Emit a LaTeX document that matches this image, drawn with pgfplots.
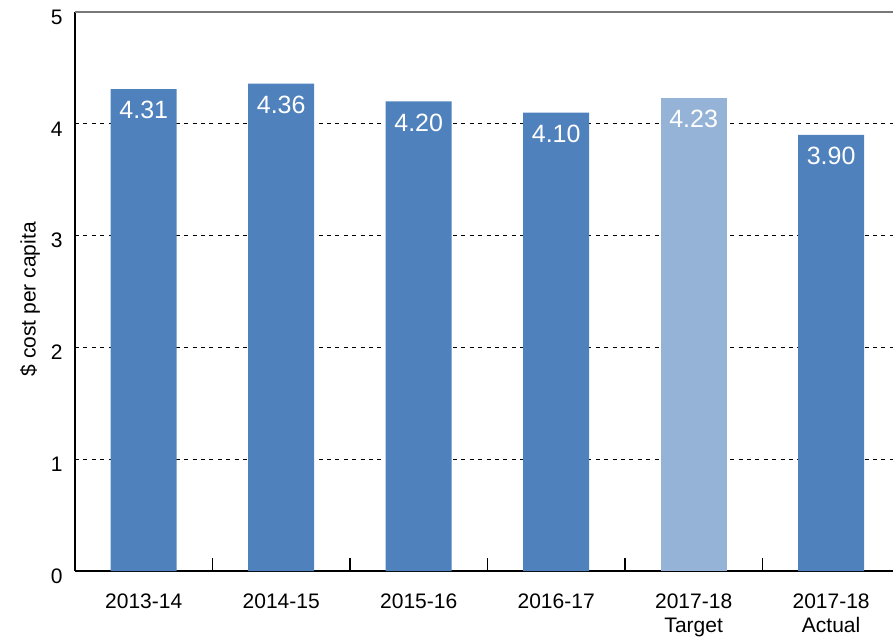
\documentclass[border=0pt]{standalone}
\usepackage{fontspec}
\setmainfont{Liberation Sans}
\usepackage{pgfplots}
\pgfplotsset{compat=1.18}
\definecolor{barblue}{RGB}{79,129,189}
\definecolor{barlight}{RGB}{149,179,215}
\definecolor{topgray}{RGB}{120,120,120}
\begin{document}
\begin{tikzpicture}
\begin{axis}[
  name=ax,
  scale only axis,
  width=409pt, height=279.5pt,
  xmin=-0.5, xmax=5.45,
  ymin=0, ymax=5,
  ybar, bar width=33pt, bar shift=0pt,
  axis x line=bottom, axis y line=left,
  axis line style={-, black, line width=0.7pt},
  xtick={0,1,2,3,4,5},
  xticklabels={2013-14,2014-15,2015-16,2016-17,{2017-18\\Target},{2017-18\\Actual}},
  x tick style={draw=none},
  xticklabel style={align=center, font=\fontsize{10.5}{12.2}\selectfont, yshift=-5.5pt},
  extra x ticks={0.5,1.5,2.5,3.5,4.5},
  extra x tick labels={},
  extra x tick style={grid=none, major tick length=6.5pt, tick align=inside, x tick style={draw=black, line width=0.6pt}},
  ytick={0,1,2,3,4,5},
  y tick style={draw=none},
  yticklabel style={font=\fontsize{10.5}{12.6}\selectfont, xshift=-0.5pt, yshift=-2.5pt},
  ymajorgrids,
  major grid style={black, line width=0.45pt, dash pattern=on 2pt off 2.2pt},
  ylabel={\$ cost per capita},
  ylabel style={at={(axis description cs:-0.055,0.486)}, anchor=center, font=\fontsize{10.5}{12.6}\selectfont},
  /pgf/number format/assume math mode=true,
  nodes near coords,
  nodes near coords style={anchor=north, text=white, font=\fontsize{12.5}{14}\selectfont, yshift=-2.6pt,
    /pgf/number format/.cd, fixed, fixed zerofill, precision=2},
  clip=false,
]
\addplot[fill=barblue, draw=none] coordinates {(0,4.31) (1,4.36) (2,4.20) (3,4.10) (5,3.90)};
\addplot[fill=barlight, draw=none] coordinates {(4,4.23)};
\draw[topgray, line width=0.8pt] (rel axis cs:0,1) -- (rel axis cs:1,1);
\end{axis}
\pgfresetboundingbox
\path[use as bounding box] ([xshift=-37.5pt,yshift=-33pt]ax.south west) rectangle ([yshift=6pt]ax.north east);
\end{tikzpicture}
\end{document}
